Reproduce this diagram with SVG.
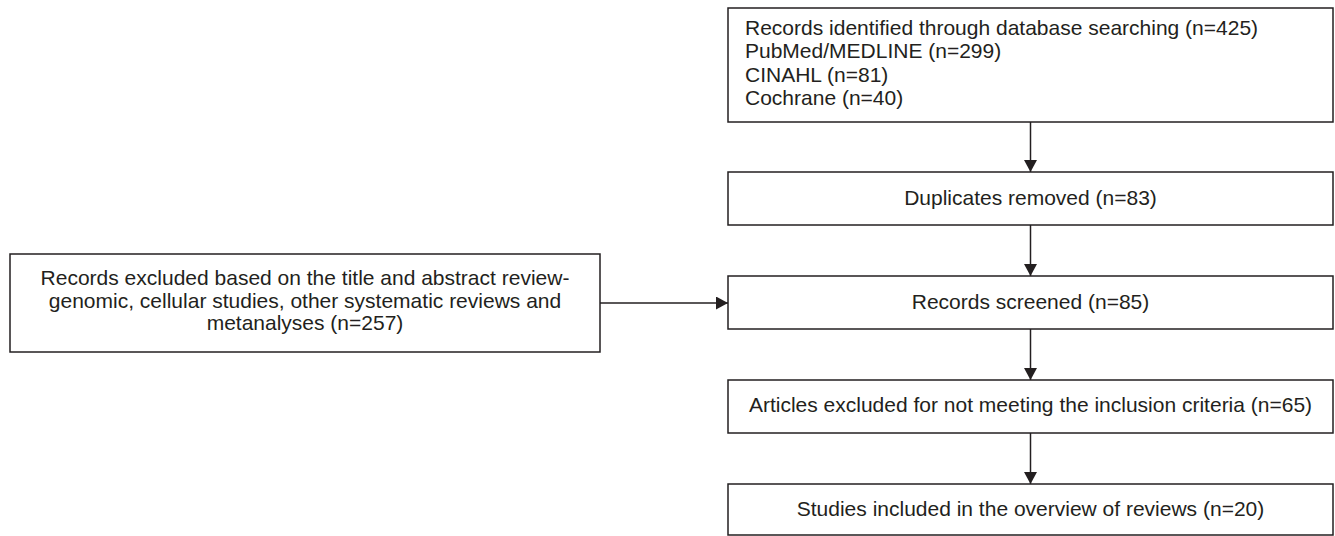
<svg xmlns="http://www.w3.org/2000/svg" width="1335" height="536" viewBox="0 0 1335 536">
<defs>
<style>
.box{fill:#fff;stroke:#231f20;stroke-width:1.5}
.t{font-family:"Liberation Sans",Arial,sans-serif;font-size:21px;fill:#231f20}
.c{text-anchor:middle}
.conn{stroke:#231f20;stroke-width:1.5;fill:none;marker-end:url(#ah)}
</style>
<marker id="ah" markerUnits="userSpaceOnUse" markerWidth="13" markerHeight="14" refX="12" refY="6.5" orient="auto">
<path d="M0,0 L12,6.5 L0,13 z" fill="#231f20"/>
</marker>
</defs>
<rect width="1335" height="536" fill="#fff"/>
<g id="connectors">
<line class="conn" x1="1030.5" y1="122" x2="1030.5" y2="172"/>
<line class="conn" x1="1030.5" y1="225" x2="1030.5" y2="276"/>
<line class="conn" x1="1030.5" y1="329" x2="1030.5" y2="380"/>
<line class="conn" x1="1030.5" y1="433" x2="1030.5" y2="484"/>
<line class="conn" x1="600" y1="303" x2="728" y2="303"/>
</g>
<g id="identified">
<rect class="box" x="728" y="8" width="605" height="114"/>
<text class="t" x="745" y="35">Records identified through database searching (n=425)</text>
<text class="t" x="745" y="58.3">PubMed/MEDLINE (n=299)</text>
<text class="t" x="745" y="81.7">CINAHL (n=81)</text>
<text class="t" x="745" y="105">Cochrane (n=40)</text>
</g>
<g id="duplicates">
<rect class="box" x="728" y="172" width="605" height="53"/>
<text class="t c" x="1030.5" y="205">Duplicates removed (n=83)</text>
</g>
<g id="screened">
<rect class="box" x="728" y="276" width="605" height="53"/>
<text class="t c" x="1030.5" y="309">Records screened (n=85)</text>
</g>
<g id="excluded-title">
<rect class="box" x="10" y="254" width="590" height="98"/>
<text class="t c" x="305" y="285">Records excluded based on the title and abstract review-</text>
<text class="t c" x="305" y="307.5">genomic, cellular studies, other systematic reviews and</text>
<text class="t c" x="305" y="330">metanalyses (n=257)</text>
</g>
<g id="excluded-criteria">
<rect class="box" x="728" y="380" width="605" height="53"/>
<text class="t c" x="1030.5" y="412">Articles excluded for not meeting the inclusion criteria (n=65)</text>
</g>
<g id="included">
<rect class="box" x="728" y="484" width="605" height="51"/>
<text class="t c" x="1030.5" y="516">Studies included in the overview of reviews (n=20)</text>
</g>
</svg>
